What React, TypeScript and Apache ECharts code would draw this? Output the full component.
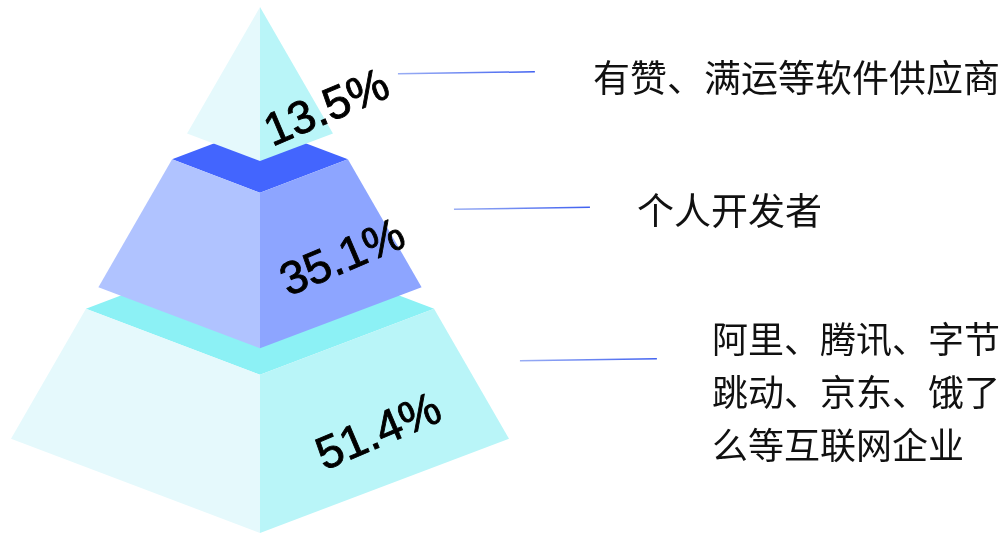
import React, { useEffect, useRef } from "react";
import * as echarts from "echarts";

// ---- data ----
const categories = [
  "有赞、满运等软件供应商",
  "个人开发者",
  "阿里、腾讯、字节\n跳动、京东、饿了\n么等互联网企业",
];
const shares = [13.5, 35.1, 51.4];
const shareLabels = shares.map((v) => v.toFixed(1) + "%");

// ---- layout (pyramid geometry, normalised: x = half-width units, y = depth units) ----
const levelTop = [0, 0.353, 0.699];
const levelBottom = [0.293, 0.649, 1];
const SIDE = 0.8206; // y of left/right corners per level
const BACK = 0.641; // y of back corner per level
const labelAnchor = [
  [0.265, 0.189],
  [0.329, 0.474],
  [0.474, 0.805],
];
const leaderStart = [
  [0.554, 0.1269],
  [0.779, 0.3845],
  [1.044, 0.6723],
];
const leaderEnd = [
  [1.104, 0.1231],
  [1.325, 0.3807],
  [1.594, 0.6686],
];
const calloutText = [
  [1.337, 0.1307],
  [1.514, 0.3845],
  [1.815, 0.7273],
];
const calloutFontSize = [37, 37, 36];

// ---- styles ----
const layerColors = [
  { top: "#4365fe", left: "#e5f9fc", right: "#b9f5f8" },
  { top: "#4365fe", left: "#b0c3ff", right: "#8da5ff" },
  { top: "#8cf1f5", left: "#e5f9fc", right: "#b9f5f8" },
];

export default function App() {
  const ref = useRef<HTMLDivElement>(null);

  useEffect(() => {
    if (!ref.current) return;
    const chart = echarts.init(ref.current, undefined, { renderer: "svg" });

    const renderItem = (params: any, api: any) => {
      const i = api.value(0);
      const t0 = levelTop[i];
      const t1 = levelBottom[i];
      const c = (x: number, y: number) => api.coord([x, y]);
      const poly = (pts: number[][], fill: string) => ({
        type: "polygon",
        silent: true,
        shape: { points: pts.map((p) => c(p[0], p[1])) },
        style: { fill },
      });
      const children: any[] = [];
      if (t0 > 0) {
        children.push(
          poly(
            [
              [-t0, SIDE * t0],
              [0, BACK * t0],
              [t0, SIDE * t0],
              [0, t0],
            ],
            layerColors[i].top
          )
        );
      }
      children.push(
        poly(
          [
            [-t0, SIDE * t0],
            [0, t0],
            [0, t1],
            [-t1, SIDE * t1],
          ],
          layerColors[i].left
        )
      );
      children.push(
        poly(
          [
            [0, t0],
            [t0, SIDE * t0],
            [t1, SIDE * t1],
            [0, t1],
          ],
          layerColors[i].right
        )
      );
      const lp = c(labelAnchor[i][0], labelAnchor[i][1]);
      children.push({
        type: "text",
        silent: true,
        x: lp[0],
        y: lp[1],
        rotation: (23 * Math.PI) / 180,
        style: {
          text: shareLabels[i],
          fontSize: 46,
          fontFamily: "'Liberation Sans', Arial, sans-serif",
          fill: "#000",
          stroke: "#000",
          lineWidth: 0.9,
          align: "center",
          verticalAlign: "middle",
        },
      });
      const a = c(leaderStart[i][0], leaderStart[i][1]);
      const b = c(leaderEnd[i][0], leaderEnd[i][1]);
      children.push({
        type: "line",
        silent: true,
        shape: { x1: a[0], y1: a[1], x2: b[0], y2: b[1] },
        style: {
          lineWidth: 1.5,
          stroke: new echarts.graphic.LinearGradient(
            a[0],
            0,
            b[0],
            0,
            [
              { offset: 0, color: "#9aaef4" },
              { offset: 1, color: "#3f60f0" },
            ],
            true
          ),
        },
      });
      const tp = c(calloutText[i][0], calloutText[i][1]);
      children.push({
        type: "text",
        silent: true,
        x: tp[0],
        y: tp[1],
        style: {
          text: categories[i],
          fontSize: calloutFontSize[i],
          lineHeight: 53,
          fontFamily: "'Noto Sans CJK SC', 'Noto Sans', sans-serif",
          fill: "#111",
          align: "left",
          verticalAlign: "middle",
        },
      });
      return { type: "group", children };
    };

    chart.setOption({
      animation: false,
      grid: { left: 11, top: 7, width: 498, height: 528 },
      xAxis: { type: "value", min: -1, max: 1, show: false },
      yAxis: { type: "value", min: 0, max: 1, inverse: true, show: false },
      series: [
        {
          type: "custom",
          clip: false,
          renderItem,
          data: [2, 1, 0].map((i) => [i]),
          encode: { x: -1, y: -1 },
        },
      ],
    });

    return () => chart.dispose();
  }, []);

  return (
    <div
      ref={ref}
      style={{ position: "fixed", left: 0, top: 0, width: 1006, height: 533 }}
    />
  );
}
